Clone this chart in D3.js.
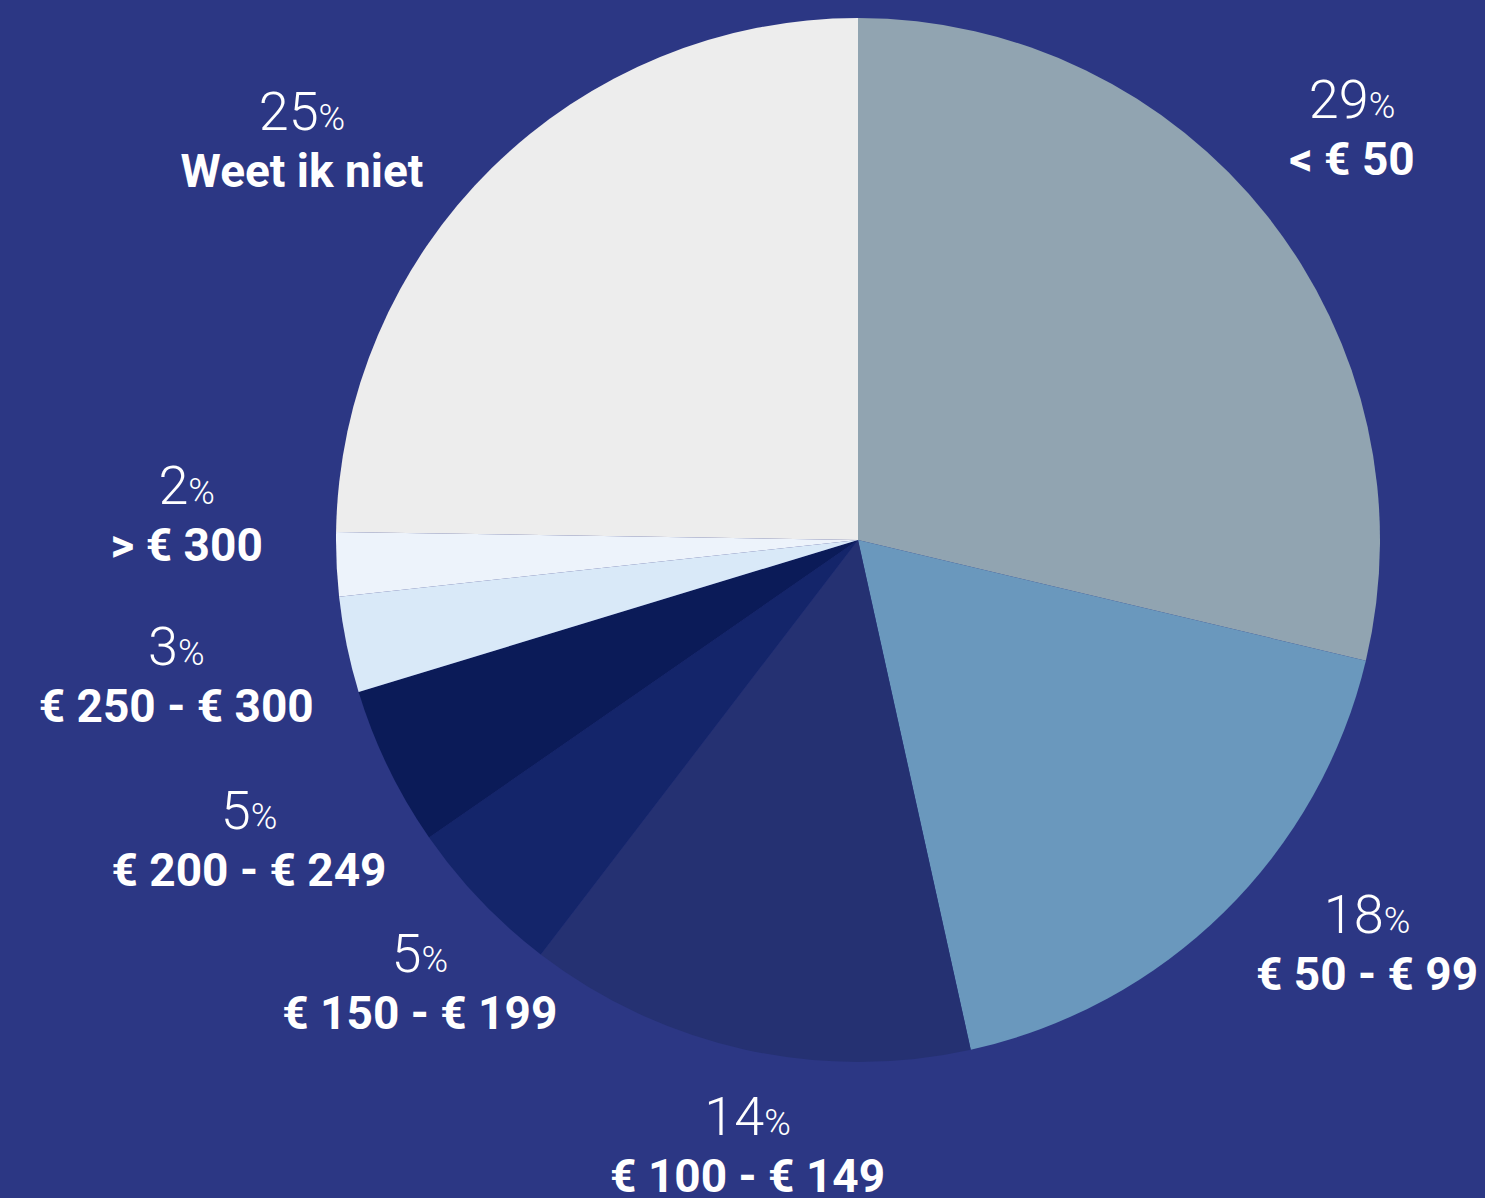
<!DOCTYPE html>
<html>
<head>
<meta charset="utf-8">
<script src="https://cdn.jsdelivr.net/npm/d3@7"></script>
<style>
	html, body { margin: 0; padding: 0; background: #2c3784; }
	svg { display: block; }
</style>
</head>
<body>
<svg></svg>
<script>
// data
var categories = ["< € 50", "€ 50 - € 99", "€ 100 - € 149", "€ 150 - € 199",
	"€ 200 - € 249", "€ 250 - € 300", "> € 300", "Weet ik niet"];
var values = [29, 18, 14, 5, 5, 3, 2, 25];
var percentLabels = ["29", "18", "14", "5", "5", "3", "2", "25"];

// slice colours
var colors = ["#91a4b1", "#6a98bd", "#253172", "#14256a",
	"#0b1b58", "#d9e9f8", "#edf3fb", "#ededed"];

// nudges for the label blocks, relative to a centroid on the label arc
var labelNudge = [[-16, -7], [53, -58], [30, -28], [32, -5],
	[-24, 18], [-45, 6], [-22, -54], [-100, 65]];

var draw = function() {
	var width = 1485,
		height = 1198,
		cx = 858,
		cy = 540,
		radius = 522,
		labelRadius = 650;

	var svg = d3.select("svg")
		.attr("width", width)
		.attr("height", height);

	svg.append("rect")
		.attr("width", width)
		.attr("height", height)
		.attr("fill", "#2c3784");

	var g = svg.append("g")
		.attr("transform", "translate(" + cx + "," + cy + ")");

	var data = categories.map(function(c, i) {
		return { cat: c, value: values[i], pct: percentLabels[i], i: i };
	});

	var pie = d3.pie()
		.sort(null)
		.value(function(d) { return d.value; });

	var arc = d3.arc()
		.innerRadius(0)
		.outerRadius(radius);

	var labelArc = d3.arc()
		.innerRadius(labelRadius)
		.outerRadius(labelRadius);

	var arcs = pie(data);

	// slices
	g.selectAll("path")
		.data(arcs)
		.enter()
		.append("path")
		.attr("d", arc)
		.attr("fill", function(d) { return colors[d.data.i]; });

	// labels
	var labels = g.selectAll("g.label")
		.data(arcs)
		.enter()
		.append("g")
		.attr("class", "label")
		.attr("transform", function(d) {
			var c = labelArc.centroid(d);
			var n = labelNudge[d.data.i];
			return "translate(" + (c[0] + n[0]) + "," + (c[1] + n[1]) + ")";
		});

	var pct = labels.append("text")
		.attr("y", -12)
		.attr("text-anchor", "middle")
		.attr("fill", "#ffffff")
		.style("font-family", "Roboto, 'Noto Sans', sans-serif")
		.style("font-weight", 300)
		.style("font-size", "54px");

	pct.append("tspan")
		.text(function(d) { return d.data.pct; });
	pct.append("tspan")
		.style("font-size", "36px")
		.text("%");

	labels.append("text")
		.attr("y", 45)
		.attr("text-anchor", "middle")
		.attr("fill", "#ffffff")
		.style("font-family", "Roboto, 'Noto Sans', sans-serif")
		.style("font-weight", 700)
		.style("font-size", "46px")
		.text(function(d) { return d.data.cat; });
};

draw();
</script>
</body>
</html>
